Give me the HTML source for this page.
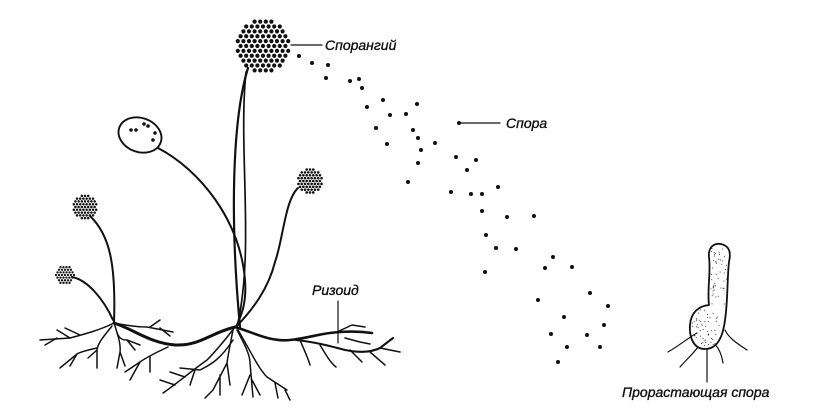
<!DOCTYPE html>
<html><head><meta charset="utf-8"><style>
html,body{margin:0;padding:0;background:#fff}
svg{display:block}
text{font-family:"Liberation Sans","DejaVu Sans",sans-serif;font-style:italic;font-size:14px;fill:#111;stroke:#111;stroke-width:0.35}
</style></head><body>
<svg id="s" width="815" height="409" viewBox="0 0 815 409" xmlns="http://www.w3.org/2000/svg">
<g fill="none" stroke="#111" stroke-linecap="round" stroke-linejoin="round">
<path d="M248,68 C232,120 230,220 240,327" stroke-width="2.2"/>
<path d="M246,72 C238,150 255,250 237,327" stroke-width="1.7"/>
<path d="M158,148 C200,170 240,220 245,280 C247,305 240,318 236,327" stroke-width="2"/>
<path d="M298,188 C285,200 283,240 275,262 C268,290 252,310 236,327" stroke-width="2"/>
<path d="M90,216 C110,235 116,265 114,323" stroke-width="2"/>
<path d="M72,277 C88,280 104,300 113,320" stroke-width="2"/>
<ellipse cx="140" cy="135" rx="22" ry="17" transform="rotate(20 140 135)" stroke-width="1.9"/>
<path d="M114,323 C135,330 150,343 175,345 C200,346 210,333 235,327" stroke-width="3"/>
<path d="M235,327 C255,333 270,342 290,340 C310,338 320,333 340,332 C355,331 365,332 372,333" stroke-width="2.6"/>
<path d="M296,340 C315,342 330,346 345,350 C360,353 372,352 380,348 L393,338" stroke-width="2.1"/>
<g stroke-width="1.5">
<path d="M114,323 C100,330 85,334 70,338 L40,340"/><path d="M70,338 L57,330 M57,338 L45,345 M80,335 L65,328"/>
<path d="M114,323 C118,335 121,345 120,352 L117,368 M120,352 L125,366"/>
<path d="M112,326 C105,335 98,342 97,350 L97,368 M97,350 L88,358"/>
<path d="M97,348 C88,350 80,352 77,354 L60,368 M77,354 L70,366"/>
<path d="M114,323 C125,325 135,327 147,327 L173,332 M150,327 L160,320 M160,328 L170,336"/>
<path d="M117,333 C120,340 124,340 127,340 L140,345 M127,340 L135,350"/>
<path d="M168,347 C155,353 147,357 140,362 L130,380 M140,362 L125,372 M150,357 L150,372"/>
<path d="M235,327 C225,340 215,352 207,360 C190,372 175,385 163,393 M185,377 L170,372 M195,370 L190,385 M175,385 L160,380"/>
<path d="M233,330 C230,345 228,355 227,363 L213,390 M227,363 L230,385 M220,375 L220,395 M213,390 L205,398"/>
<path d="M237,330 C245,345 250,355 250,363 L253,397 M250,375 L242,395 M252,380 L260,395"/>
<path d="M238,330 C250,350 258,368 267,377 L287,390 M275,383 L278,398 M285,390 L290,400"/>
<path d="M233,340 C220,360 210,365 200,370 L180,368"/>
<path d="M300,340 C305,352 308,358 310,365 M320,345 C326,355 330,362 336,367 M350,350 L362,362 M370,352 L385,365"/>
<path d="M337,332 L352,325 L365,327 M345,338 L360,342 L370,344 M380,348 L400,352"/>
</g>
<path d="M291,45 L322,45" stroke-width="1.2"/>
<path d="M459,123 L500,123" stroke-width="1.2"/>
<path d="M338,301 L338,343" stroke-width="1.2"/>
<path d="M709,305 C707,290 711,272 709,257 C708,247 714,243 721,244 C730,246 731,253 729,262 C727,280 728,300 725,320 C723,336 718,349 705,349 C694,349 689,338 690,325 C691,312 699,306 709,305 Z" stroke-width="1.8" fill="#fff"/>
<g stroke-width="1.2">
<path d="M697,333 C688,338 680,345 668,352"/>
<path d="M698,347 C692,355 686,360 680,367"/>
<path d="M707,349 L707,382"/>
<path d="M715,344 C720,350 722,356 723,363"/>
<path d="M725,330 C730,340 740,345 747,350"/>
</g>
</g>
<g id="dots" fill="#111"></g>
<text x="325" y="50">Спорангий</text>
<text x="506" y="128">Спора</text>
<text x="312" y="295">Ризоид</text>
<text x="622" y="397">Прорастающая спора</text>
</svg>
<script>
var g=document.getElementById('dots'),ns='http://www.w3.org/2000/svg';
function c(x,y,r){var e=document.createElementNS(ns,'circle');e.setAttribute('cx',x);e.setAttribute('cy',y);e.setAttribute('r',r);g.appendChild(e);}
function sp(cx,cy,R,dr,step){for(var j=-20;j<=20;j++){for(var i=-20;i<=20;i++){var x=cx+(i+(j%2?0.5:0))*step,y=cy+j*step*0.87;if(Math.pow(x-cx,2)+Math.pow(y-cy,2)<=R*R)c(x,y,dr);}}}
sp(263,46,26,2.1,5.6);sp(310,181,13,1.3,3.3);sp(85,207,12,1.25,3.2);sp(65,275,9.5,1.15,3);
[[131,130],[136,130],[148,126],[155,133],[153,140],[144,124]].forEach(function(p){c(p[0],p[1],1.8)});
var S=[[299,56],[312,63],[328,65],[326,78],[350,81],[359,79],[362,88],[367,107],[383,100],[390,115],[406,114],[417,104],[376,128],[413,130],[418,138],[387,144],[435,143],[421,150],[418,163],[408,182],[456,157],[476,160],[467,170],[498,187],[451,192],[471,194],[482,194],[482,211],[507,217],[534,216],[486,235],[496,248],[516,249],[553,257],[545,268],[572,267],[485,272],[590,293],[538,300],[608,306],[564,317],[604,325],[551,334],[587,335],[567,347],[600,347],[558,362],[459,123]];
S.forEach(function(p){c(p[0],p[1],2)});
var seed=7;function rnd(){seed=(seed*9301+49297)%233280;return seed/233280;}
for(var i=0;i<220;i++){var x=692+rnd()*36,y=246+rnd()*102;if((y<305&&x>711&&x<728)||(y>=305&&Math.pow((x-706)/15,2)+Math.pow((y-327)/20,2)<1))c(x,y,0.5);}
</script>
</body></html>
